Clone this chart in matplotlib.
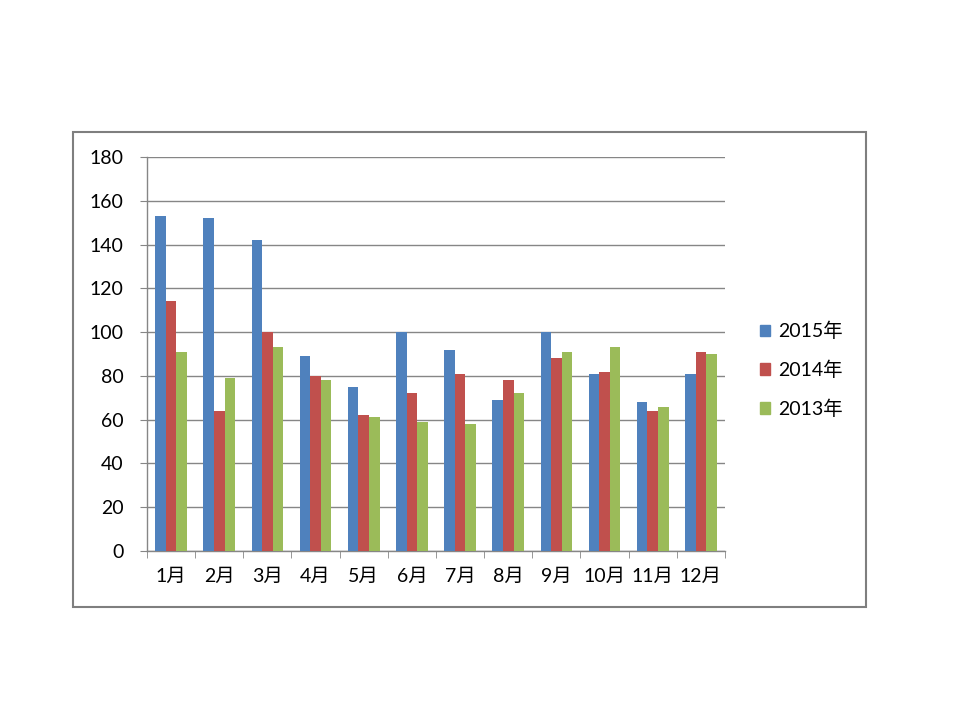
import matplotlib
matplotlib.use("Agg")
import matplotlib.pyplot as plt
import numpy as np
from matplotlib.patches import Rectangle, Patch

plt.rcParams['font.family'] = ['Lato', 'Noto Sans CJK SC', 'DejaVu Sans']

months = ["1月", "2月", "3月", "4月", "5月", "6月", "7月", "8月", "9月", "10月", "11月", "12月"]
series_names = ["2015年", "2014年", "2013年"]
v2015 = [153, 152, 142, 89, 75, 100, 92, 69, 100, 81, 68, 81]
v2014 = [114, 64, 100, 80, 62, 72, 81, 78, 88, 82, 64, 91]
v2013 = [91, 79, 93, 78, 61, 59, 58, 72, 91, 93, 66, 90]
yticks = [0, 20, 40, 60, 80, 100, 120, 140, 160, 180]

colors = ["#4F81BD", "#C0504D", "#9BBB59"]

fig = plt.figure(figsize=(9.6, 7.2), dpi=100)
fig.patch.set_facecolor("white")

# outer chart frame
frame = Rectangle((73 / 960, 1 - 607 / 720), (866 - 73) / 960, (607 - 132) / 720,
                  transform=fig.transFigure, fill=False, edgecolor="#7F7F7F", linewidth=1.5)
fig.add_artist(frame)

ax = fig.add_axes([147 / 960, 1 - 551 / 720, (725 - 147) / 960, (551 - 157) / 720])

x = np.arange(len(months))
w = 0.22
for i, (vals, c, name) in enumerate(zip([v2015, v2014, v2013], colors, series_names)):
    ax.bar(x + (i - 1) * w, vals, width=w, color=c, label=name, zorder=3)

ax.set_xlim(-0.5, len(months) - 0.5)
ax.set_ylim(0, 180)
ax.set_yticks(yticks)
ax.set_yticklabels([str(t) for t in yticks], fontsize=14)
ax.set_xticks(x)
ax.set_xticklabels(months, fontsize=14)
ax.set_xticks(np.arange(-0.5, len(months), 1), minor=True)
ax.tick_params(axis='x', which='major', length=0, pad=12)
ax.tick_params(axis='x', which='minor', length=5, color="#868686", direction='out')
ax.tick_params(axis='y', length=5, color="#868686", direction='out', pad=12)
ax.yaxis.grid(True, color="#868686", linewidth=1, zorder=0)
ax.set_axisbelow(True)
for s in ["top", "right"]:
    ax.spines[s].set_visible(False)
for s in ["left", "bottom"]:
    ax.spines[s].set_color("#868686")
    ax.spines[s].set_linewidth(1)

handles = [Patch(facecolor=c, edgecolor=c) for c in colors]
fig.legend(handles, series_names, loc="center left",
           bbox_to_anchor=(742 / 960, 1 - 370 / 720), frameon=False, fontsize=14,
           handlelength=0.55, handleheight=0.55, handletextpad=0.4, labelspacing=1.05)

fig.savefig("out.png", dpi=100)
